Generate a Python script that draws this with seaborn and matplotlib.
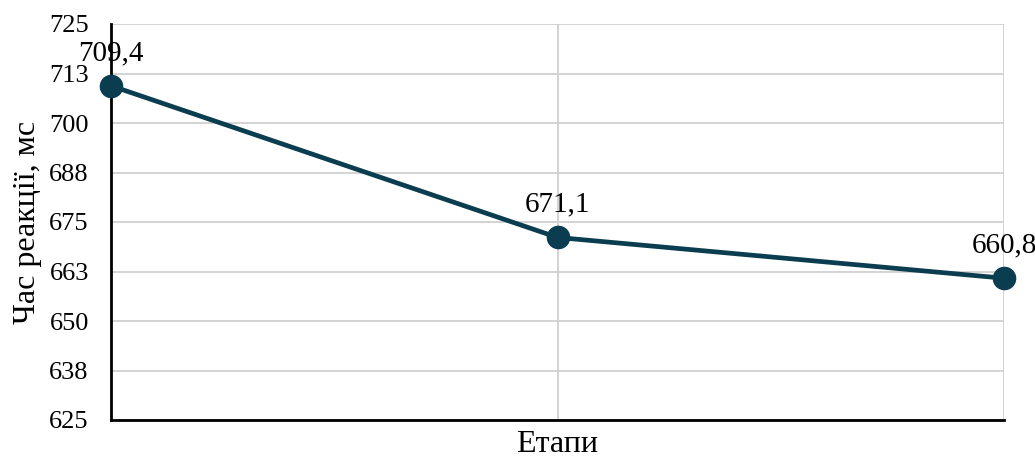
import matplotlib
matplotlib.use("Agg")
import matplotlib.pyplot as plt
import seaborn as sns
import pandas as pd

stages = [0, 1, 2]
reaction_ms = [709.4, 671.1, 660.8]
value_labels = ["709,4", "671,1", "660,8"]
ytick_values = [625, 637.5, 650, 662.5, 675, 687.5, 700, 712.5, 725]
ytick_labels = ["625", "638", "650", "663", "675", "688", "700", "713", "725"]

sns.set_theme(style="white")
plt.rcParams['font.family'] = ['Liberation Serif', 'DejaVu Serif']

df = pd.DataFrame({"stage": stages, "rt": reaction_ms})
color = "#0b3d50"

fig = plt.figure(figsize=(10.35, 4.62), dpi=100)
ax = fig.add_axes([111/1035, 1 - 420/462, (1004-111)/1035, (420-24)/462])

sns.lineplot(data=df, x="stage", y="rt", ax=ax, color=color, linewidth=3.4,
             marker="o", markersize=17, markeredgewidth=0, clip_on=False, zorder=3)

ax.set_xlim(0, 2)
ax.set_ylim(625, 725)
ax.set_yticks(ytick_values)
ax.set_yticklabels(ytick_labels)
ax.set_xticks(stages)
ax.set_xticklabels([])
ax.grid(True, color="#d0d0d0", linewidth=1.3)
ax.tick_params(axis="both", length=0, labelsize=19, colors="black")
ax.tick_params(axis="y", pad=16)

for s in ["top", "right"]:
    ax.spines[s].set_visible(False)
for s in ["left", "bottom"]:
    ax.spines[s].set_color("black")
    ax.spines[s].set_linewidth(2)
ax.spines["left"].set_zorder(2.5)

for x, y, lab in zip(stages, reaction_ms, value_labels):
    ax.annotate(lab, (x, y), xytext=(0, 18.5), textcoords="offset points",
                ha="center", va="baseline", fontsize=21, color="black",
                annotation_clip=False)

ax.set_xlabel("Етапи", fontsize=23, color="black", labelpad=4)
ax.set_ylabel("Час реакції, мс", fontsize=23, color="black", labelpad=5)

fig.savefig("out.png", dpi=100)
